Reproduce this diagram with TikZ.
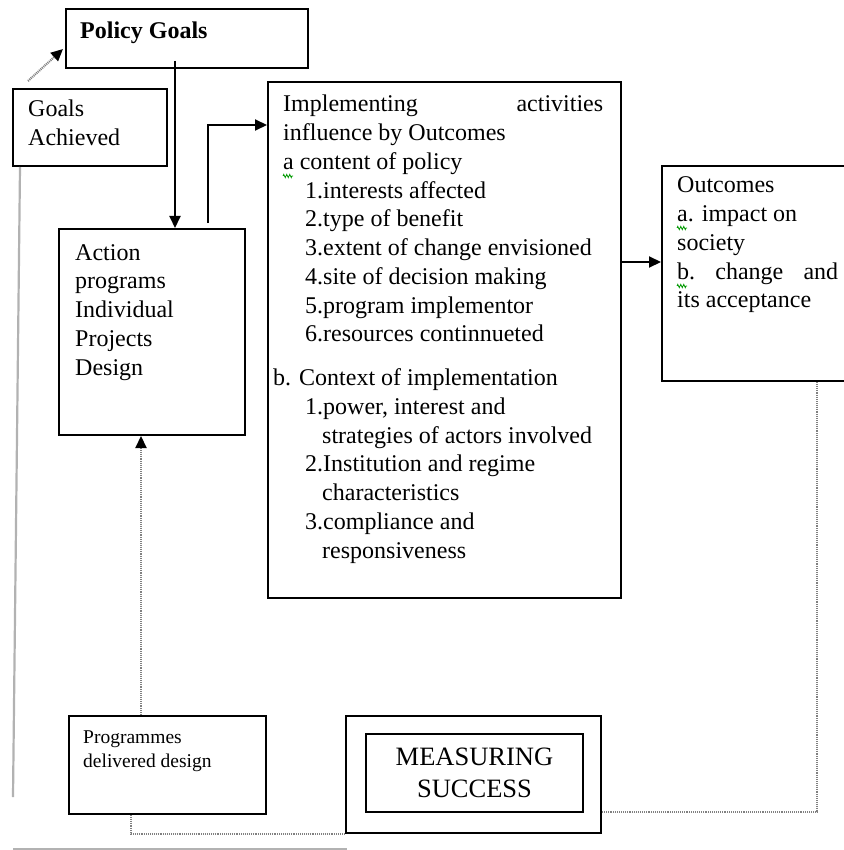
\documentclass[tikz,border=0pt]{standalone}
\usepackage{fontspec}
\setmainfont{Liberation Serif}
\usetikzlibrary{arrows.meta,decorations.pathmorphing,calc}
\newcommand\basefs{\fontsize{24pt}{28.75pt}\selectfont}
\tikzset{
  box/.style={draw=black, line width=2pt, inner sep=0pt, anchor=north west},
  txt/.style={inner sep=0pt, anchor=base west, font=\basefs},
  tip/.style={-{Triangle[length=12pt,width=11pt,black]}},
  arr/.style={draw=black, line width=2pt, tip},
  dotline/.style={draw=black!50, line width=2.2pt, dash pattern=on 1pt off 0.9pt},
  greyline/.style={draw=black!30, line width=2.2pt},
  squig/.style={draw=green!60!black, line width=0.8pt, decorate,
    decoration={zigzag,segment length=3pt,amplitude=1.6pt}}
}
\begin{document}
\begin{tikzpicture}[x=1pt,y=-1pt]
\useasboundingbox (0,0) rectangle (843,850);
% boxes
\node[box, minimum width=242pt, minimum height=59pt] (pg) at (65,8) {};
\node[box, minimum width=154pt, minimum height=77pt] (ga) at (12,88) {};
\node[box, minimum width=186pt, minimum height=206pt] (act) at (58,228) {};
\node[box, minimum width=353pt, minimum height=516pt] (impl) at (267,81) {};
\node[box, minimum width=200pt, minimum height=215pt] (out) at (661,165) {};
\node[box, minimum width=197pt, minimum height=98pt] (prog) at (68,715) {};
\node[box, minimum width=255pt, minimum height=117pt] (msout) at (345,715) {};
\node[box, minimum width=217pt, minimum height=78pt] (msin) at (365,733) {};
% texts
\node[txt, font=\basefs\bfseries] (pgt) at (80,39) {Policy Goals};
\node[txt] (gat) at (28,117) {\parbox[t]{140pt}{\raggedright Goals\\Achieved}};
\node[txt] (actt) at (75,260) {\parbox[t]{160pt}{\raggedright Action\\programs\\Individual\\Projects\\Design}};
\node[txt] (implt) at (273,112) {\parbox[t]{330pt}{\raggedright
\hspace*{10pt}Implementing\hfill activities\\
\hspace*{10pt}influence by Outcomes\\
\hspace*{10pt}a content of policy\\
\hspace*{32pt}1.interests affected\\
\hspace*{32pt}2.type of benefit\\
\hspace*{32pt}3.extent of change envisioned\\
\hspace*{32pt}4.site of decision making\\
\hspace*{32pt}5.program implementor\\
\hspace*{32pt}6.resources continnueted\\[15pt]
b. Context of implementation\\
\hspace*{32pt}1.power, interest and\\
\hspace*{49pt}strategies of actors involved\\
\hspace*{32pt}2.Institution and regime\\
\hspace*{49pt}characteristics\\
\hspace*{32pt}3.compliance and\\
\hspace*{49pt}responsiveness}};
\node[txt] (outt) at (677,193) {\parbox[t]{161pt}{\raggedright Outcomes\\a. impact on\\society\\b.\hfill change\hfill and\\its acceptance}};
\node[txt, font=\fontsize{19.5pt}{24pt}\selectfont] (progt) at (83,743) {\parbox[t]{170pt}{\raggedright Programmes\\delivered design}};
\node[inner sep=0pt, align=center, font=\fontsize{26.5pt}{32pt}\selectfont] (mst) at (msin.center) {MEASURING\\SUCCESS};
% spell-check squiggles
\draw[squig] (283,176) -- (293,176);
\draw[squig] (677,228) -- (687,228);
\draw[squig] (677,286) -- (687,286);
% helper coordinates
\coordinate (gaTip) at (28,81);
\coordinate (pgStart) at (175,61);
\coordinate (actUp) at (208,223);
\coordinate (a1) at (267,125);
\coordinate (y262) at (0,262);
\coordinate (o1) at (817,812);
\coordinate (p1) at (141,0);
\coordinate (p2) at (131,0);
\coordinate (g0) at (20,0);
\coordinate (g1) at (13,797);
\coordinate (b0) at (13,849);
\coordinate (b1) at (347,849);
% connectors
\draw[dotline, tip] (gaTip) -- ($(pg.south west)+(-2,-20)$);
\draw[arr] (pgStart) -- (act.north -| pgStart);
\draw[arr] (actUp) |- (impl.west |- a1);
\draw[arr] (impl.east |- y262) -- (out.west |- y262);
\draw[dotline] (out.south -| o1) -- (o1) -- (msout.east |- o1);
\draw[dotline, tip] (prog.north -| p1) -- (act.south -| p1);
\draw[dotline] (prog.south -| p2) |- (msout.south west);
\draw[greyline] (ga.south -| g0) -- (g1);
\draw[greyline] (b0) -- (b1);
\end{tikzpicture}
\end{document}
